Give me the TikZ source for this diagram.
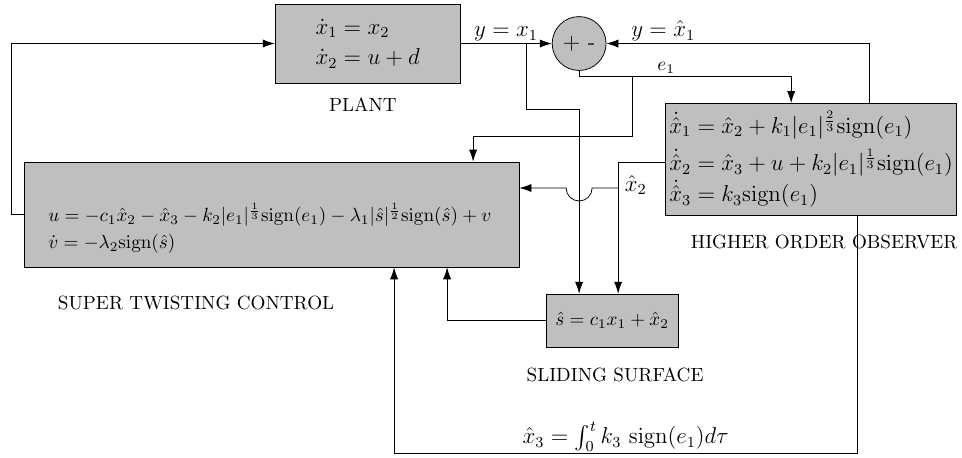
\documentclass[tikz,border=0pt]{standalone}
\usepackage{amsmath,amssymb}
\usepackage{tikz}
\usetikzlibrary{calc,positioning,arrows.meta}

\tikzset{
  block/.style={draw, fill=lightgray, inner sep=2pt},
  sig/.style={-{Latex[length=2.2mm,width=1.5mm]}},
  lbl/.style={above, inner sep=1pt, font=\large},
}

\begin{document}
\begin{tikzpicture}
  \useasboundingbox (0,0) rectangle (17.68,8.40);
  % blocks
  \node[block, minimum width=3.4cm, minimum height=1.45cm, align=left, font=\large] (plant) at (6.756,7.6)
    {$\dot{x}_1 = x_2$\\[2pt]$\dot{x}_2 = u + d$};
  \node[circle, draw, fill=lightgray, minimum size=0.99cm, inner sep=0pt, font=\large] (sum) at (10.643,7.6) {$+$\hspace{4pt}-};
  \node[block, anchor=north west, minimum height=2.06cm, align=left, font=\large] (obs) at (12.224,6.507)
    {$\dot{\hat{x}}_1 = \hat{x}_2 + k_1|e_1|^{\frac{2}{3}}\mathrm{sign}(e_1)$\\[4pt]
     $\dot{\hat{x}}_2 = \hat{x}_3 + u + k_2|e_1|^{\frac{1}{3}}\mathrm{sign}(e_1)$\\[1pt]
     $\dot{\hat{x}}_3 = k_3\mathrm{sign}(e_1)$};
  \node[block, minimum width=9.1cm, minimum height=1.93cm] (stc) at (4.99,4.458) {};
  \node[right, inner sep=0pt, align=left] (stceq) at (0.882,4.2)
    {$u = -c_1\hat{x}_2 - \hat{x}_3 - k_2|e_1|^{\frac{1}{3}}\mathrm{sign}(e_1) - \lambda_1|\hat{s}|^{\frac{1}{2}}\mathrm{sign}(\hat{s}) + v$\\[2pt]
     $\dot{v} = -\lambda_2\mathrm{sign}(\hat{s})$};
  \node[block, minimum width=2.43cm, minimum height=0.97cm] (ss) at (11.25,2.509) {$\hat{s} = c_1x_1 + \hat{x}_2$};

  % block titles
  \node (plantlbl) at (6.67,6.471) {PLANT};
  \node (stclbl) at (3.603,2.831) {SUPER TWISTING CONTROL};
  \node (sslbl) at (11.305,1.507) {SLIDING SURFACE};
  \node (obslbl) at (15.147,3.952) {HIGHER ORDER OBSERVER};

  % junctions
  \coordinate (uleft) at (0.202,4.458);
  \coordinate (ya) at (9.669,7.6);
  \coordinate (yb) at (9.669,6.397);
  \coordinate (e1a) at (10.643,7.004);
  \coordinate (e1b) at (14.54,7.004);
  \coordinate (e1c) at (11.618,7.004);
  \coordinate (e1d) at (11.618,5.901);
  \coordinate (e1e) at (8.695,5.901);
  \coordinate (yh) at (15.974,7.6);
  \coordinate (x2a) at (11.36,5.423);
  \coordinate (x2b) at (11.36,4.945);
  \coordinate (sa) at (8.217,2.509);
  \coordinate (x3a) at (15.754,0.0735);
  \coordinate (x3b) at (7.243,0.0735);

  % signals
  \draw[sig] (stc.west) -- (uleft) |- (plant.west);
  \draw[sig] (plant.east) -- node[lbl] (ylbl) {$y = x_1$} (sum.west);
  \draw[sig] (ya) -- (yb) -| (sum |- ss.north);
  \draw[sig] (sum.south) -- (e1a) -- (e1b) -- (e1b |- obs.north);
  \node[above, inner sep=1pt] (e1lbl) at (12.243,7.004) {$e_1$};
  \draw[sig] (e1c) -- (e1d) -- (e1e) -- (e1e |- stc.north);
  \draw[sig] (obs.north -| yh) -- (yh) -- (sum.east);
  \node[lbl] (yhlbl) at (12.188,7.6) {$y = \hat{x}_1$};
  \draw[sig] (obs.west |- x2a) -- (x2a) -- (x2a |- ss.north);
  \node[right, font=\large] (x2lbl) at (11.36,5.0) {$\hat{x}_2$};
  \draw[sig] (x2b) -- ($(sum |- x2b)+(0.239,0)$) arc (0:-180:0.239) -- (stc.east |- x2b);
  \draw[sig] (ss.west) -- (sa) -- (sa |- stc.south);
  \draw[sig] (obs.south -| x3a) -- (x3a) -- node[above, inner sep=0.5pt, font=\large] (x3lbl)
    {$\hat{x}_3 = \int_0^t k_3\ \mathrm{sign}(e_1)d\tau$} (x3b) -- (x3b |- stc.south);
\end{tikzpicture}
\end{document}
